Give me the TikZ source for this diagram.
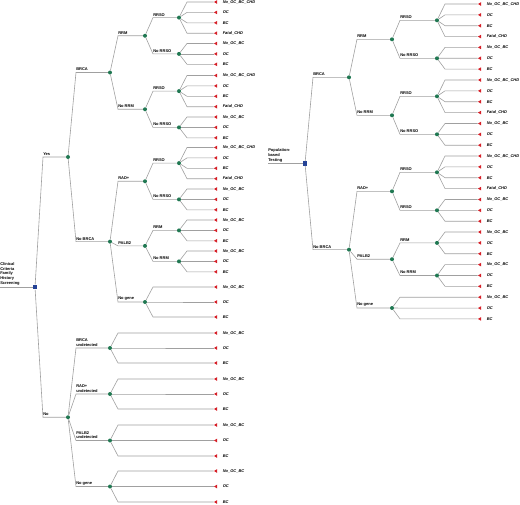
\documentclass[tikz,border=0pt]{standalone}
\usepackage{fontspec}
\setmainfont{Liberation Sans}
\usepackage{tikz}
\usetikzlibrary{shapes.geometric,calc,positioning}
\tikzset{every node/.style={font=\fontsize{4}{4.9}\selectfont\bfseries}}
\definecolor{branchgray}{RGB}{160,160,160}
\definecolor{chancegreen}{RGB}{32,120,82}
\definecolor{decisionblue}{RGB}{36,66,150}
\definecolor{termred}{RGB}{214,32,40}

\newcommand{\branch}[3]{\draw[branch] let \p1=(#1.center), \p2=(#2.center) in
  (#1) -- (\x1+8pt,\y2) node[blabel] {#3} -- (#2);}
\newcommand{\outcomes}[5]{%
  \foreach \txt [count=\k from 0] in {#5} {
    \node[term, label={[tlbl]right:\txt}] (#1-\k) at (#2,{#3+\k*#4}) {};
    \draw[branch] let \p1=(#1.center), \p2=(#1-\k.center) in
      (#1) -- (\x1+8pt,\y2) -- (#1-\k);
  }}

\begin{document}
\begin{tikzpicture}[x=1pt, y=-1pt, align=left]
  \tikzstyle{branch}=[draw=branchgray, line width=0.6pt]
  \tikzstyle{chance}=[circle, fill=chancegreen, inner sep=0pt, minimum size=4pt]
  \tikzstyle{decision}=[rectangle, fill=decisionblue, inner sep=0pt, minimum size=4.5pt]
  \tikzstyle{term}=[regular polygon, regular polygon sides=3, shape border rotate=90, fill=termred, inner sep=0pt, minimum size=4.2pt]
  \tikzstyle{blabel}=[anchor=south west, inner xsep=0pt, inner ysep=1.2pt]
  \tikzstyle{tlbl}=[label distance=4.5pt, inner sep=0.8pt, font=\fontsize{4}{4.9}\selectfont\bfseries\itshape]
  \useasboundingbox (0,0) rectangle (520,504);

  % screening tree
  \coordinate (in1) at (0,287.1);
  \node[decision] (s1) at (35,287.1) {};
  \draw[branch] (in1) node[blabel] {Clinical\\Criteria\\Family\\History\\Screening} -- (s1);

  \node[chance] (q1) at (68,157) {};
  \node[chance] (q2) at (68,417.25) {};
  \node[chance] (q3) at (110,72.5) {};
  \node[chance] (q4) at (110,241.6) {};
  \node[chance] (q5) at (145,35.75) {};
  \node[chance] (q6) at (145,109.25) {};
  \node[chance] (q7) at (179,17.6) {};
  \node[chance] (q8) at (179,53.9) {};
  \node[chance] (q9) at (179,91.1) {};
  \node[chance] (q10) at (179,127.4) {};
  \node[chance] (q11) at (145,181.25) {};
  \node[chance] (q12) at (145,245.9) {};
  \node[chance] (q13) at (145,302) {};
  \node[chance] (q14) at (179,163.1) {};
  \node[chance] (q15) at (179,199.4) {};
  \node[chance] (q16) at (179,230.4) {};
  \node[chance] (q17) at (179,261.4) {};
  \node[chance] (q18) at (110,348) {};
  \node[chance] (q19) at (110,394) {};
  \node[chance] (q20) at (110,440.5) {};
  \node[chance] (q21) at (110,486.5) {};

  \branch{s1}{q1}{Yes}
  \branch{s1}{q2}{No}
  \branch{q1}{q3}{BRCA}
  \branch{q1}{q4}{No BRCA}
  \branch{q3}{q5}{RRM}
  \branch{q3}{q6}{No RRM}
  \branch{q5}{q7}{RRSO}
  \branch{q5}{q8}{No RRSO}
  \branch{q6}{q9}{RRSO}
  \branch{q6}{q10}{No RRSO}
  \branch{q4}{q11}{RAD+}
  \branch{q4}{q12}{PALB2}
  \branch{q4}{q13}{No gene}
  \branch{q11}{q14}{RRSO}
  \branch{q11}{q15}{No RRSO}
  \branch{q12}{q16}{RRM}
  \branch{q12}{q17}{No RRM}
  \branch{q2}{q18}{BRCA\\undetected}
  \branch{q2}{q19}{RAD+\\undetected}
  \branch{q2}{q20}{PALB2\\undetected}
  \branch{q2}{q21}{No gene}

  \outcomes{q7}{216}{2}{10.4}{No\_OC\_BC\_CHD, OC, BC, Fatal\_CHD}
  \outcomes{q8}{216}{43.5}{10.4}{No\_OC\_BC, OC, BC}
  \outcomes{q9}{216}{75.5}{10.4}{No\_OC\_BC\_CHD, OC, BC, Fatal\_CHD}
  \outcomes{q10}{216}{117}{10.4}{No\_OC\_BC, OC, BC}
  \outcomes{q14}{216}{147.5}{10.4}{No\_OC\_BC\_CHD, OC, BC, Fatal\_CHD}
  \outcomes{q15}{216}{189}{10.4}{No\_OC\_BC, OC, BC}
  \outcomes{q16}{216}{220}{10.4}{No\_OC\_BC, OC, BC}
  \outcomes{q17}{216}{251}{10.4}{No\_OC\_BC, OC, BC}
  \outcomes{q13}{216}{287}{15}{No\_OC\_BC, OC, BC}
  \outcomes{q18}{216}{333}{15}{No\_OC\_BC, OC, BC}
  \outcomes{q19}{216}{379}{15}{No\_OC\_BC, OC, BC}
  \outcomes{q20}{216}{425}{15.5}{No\_OC\_BC, OC, BC}
  \outcomes{q21}{216}{471}{15.5}{No\_OC\_BC, OC, BC}

  % testing tree
  \coordinate (in2) at (268,163.5);
  \node[decision] (s2) at (305,163.5) {};
  \draw[branch] (in2) node[blabel] {Population-\\based\\Testing} -- (s2);

  \node[chance] (q22) at (349,77.3) {};
  \node[chance] (q23) at (349,249.65) {};
  \node[chance] (q24) at (392,39.3) {};
  \node[chance] (q25) at (392,115.3) {};
  \node[chance] (q26) at (437,20.3) {};
  \node[chance] (q27) at (437,58.3) {};
  \node[chance] (q28) at (437,96.3) {};
  \node[chance] (q29) at (437,134.3) {};
  \node[chance] (q30) at (392,191.3) {};
  \node[chance] (q31) at (392,259.2) {};
  \node[chance] (q32) at (392,308) {};
  \node[chance] (q33) at (437,172.3) {};
  \node[chance] (q34) at (437,210.3) {};
  \node[chance] (q35) at (437,242.9) {};
  \node[chance] (q36) at (437,275.5) {};

  \branch{s2}{q22}{BRCA}
  \branch{s2}{q23}{No BRCA}
  \branch{q22}{q24}{RRM}
  \branch{q22}{q25}{No RRM}
  \branch{q24}{q26}{RRSO}
  \branch{q24}{q27}{No RRSO}
  \branch{q25}{q28}{RRSO}
  \branch{q25}{q29}{No RRSO}
  \branch{q23}{q30}{RAD+}
  \branch{q23}{q31}{PALB2}
  \branch{q23}{q32}{No gene}
  \branch{q30}{q33}{RRSO}
  \branch{q30}{q34}{RRSO}
  \branch{q31}{q35}{RRM}
  \branch{q31}{q36}{No RRM}

  \outcomes{q26}{480}{4}{10.86}{No\_OC\_BC\_CHD, OC, BC, Fatal\_CHD}
  \outcomes{q27}{480}{47.4}{10.86}{No\_OC\_BC, OC, BC}
  \outcomes{q28}{480}{80}{10.86}{No\_OC\_BC\_CHD, OC, BC, Fatal\_CHD}
  \outcomes{q29}{480}{123.5}{10.86}{No\_OC\_BC, OC, BC}
  \outcomes{q33}{480}{156}{10.86}{No\_OC\_BC\_CHD, OC, BC, Fatal\_CHD}
  \outcomes{q34}{480}{199.5}{10.86}{No\_OC\_BC, OC, BC}
  \outcomes{q35}{480}{232}{10.86}{No\_OC\_BC, OC, BC}
  \outcomes{q36}{480}{264.6}{10.86}{No\_OC\_BC, OC, BC}
  \outcomes{q32}{480}{297.2}{10.86}{No\_OC\_BC, OC, BC}
\end{tikzpicture}
\end{document}
